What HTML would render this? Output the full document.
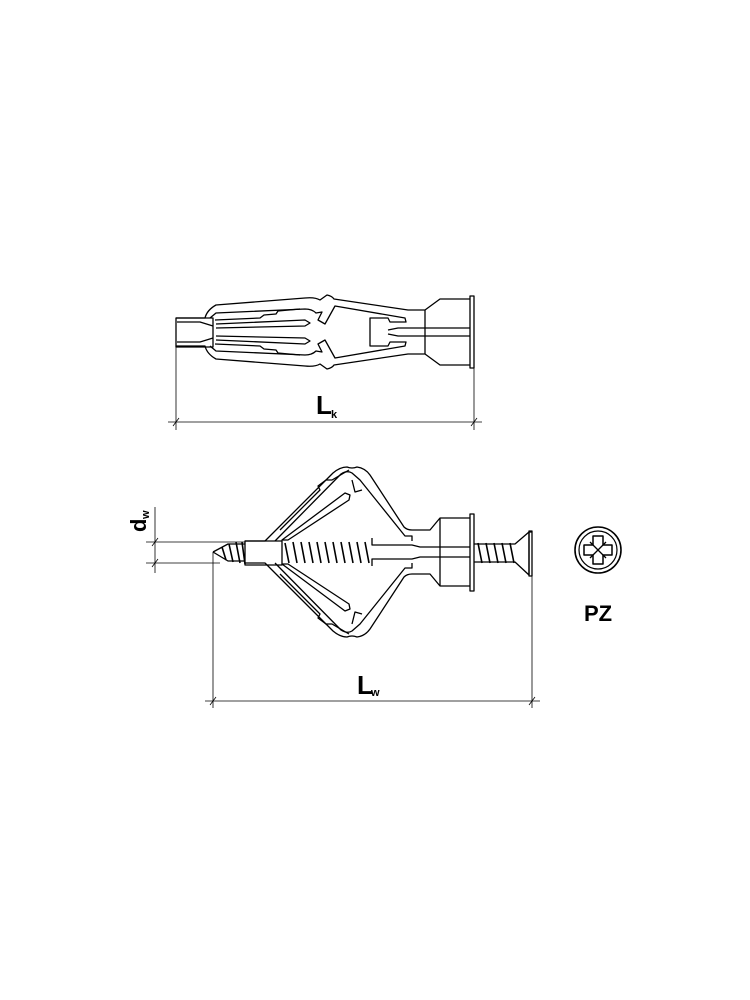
<!DOCTYPE html>
<html><head><meta charset="utf-8"><style>
html,body{margin:0;padding:0;background:#fff}
svg{display:block}
text{font-family:"Liberation Sans",sans-serif;font-weight:bold;fill:#000}
</style></head><body>
<svg width="750" height="1000" viewBox="0 0 750 1000" xmlns="http://www.w3.org/2000/svg">
<g fill="none" stroke="#000" stroke-width="1.3" stroke-linejoin="round">
<!-- TOP ANCHOR -->
<g id="tophalf">
 <path d="M176 318 H205 Q207 310 216 305 L305 298 Q315 297 320 300 L327 295 Q332 296 334 299 L408 310 H425 L440 299 H470"/>
 <path d="M210 318 L216 313 L305 309 Q312 309 316 313 L322 312 L318 320 L325 324 L335 306 L405 318 L406 322 H390 L388 318 H370 V332"/>
 <path d="M215 320 L260 318 L264 315 L276 314 L278 311 L300 309"/>
 <path d="M216 324 L305 320 L310 323 L305 326 L216 328"/>
 <path d="M177 322 L200 322 L213 326"/>
 <path d="M388 330 L398 328 H470"/>
</g>
<use href="#tophalf" transform="translate(0 664) scale(1 -1)"/>
<rect x="176" y="318" width="37" height="29"/>
<rect x="470" y="296" width="4" height="72"/>
<line x1="425" y1="310" x2="425" y2="354"/>

<!-- BOTTOM ANCHOR -->
<g id="bothalf">
 <path d="M245 541 H265 L333 473 Q340 467 347 467 Q352 469 357 467 Q365 468 370 475 L404 527 Q407 530 412 530 H430 L440 518 H470"/>
 <path d="M275 541 L341 474 Q347 470 352 473 L360 480 L405 536 H412 V541"/>
 <path d="M352 480 L355 492 L362 490"/>
 <path d="M280 530 L320 490 L318 486 L326 480 L332 480 L349 470"/>
 <path d="M282 540 L345 493 L350 495 L349 500 L288 540 Z"/>
 <path d="M372 538 V545 H412 L420 547 H470"/>
</g>
<use href="#bothalf" transform="translate(0 1104) scale(1 -1)"/>
<rect x="245" y="541" width="37" height="24"/>
<rect x="470" y="514" width="4" height="77"/>
<line x1="440" y1="518" x2="440" y2="586"/>
<!-- screw -->
<path d="M213 552 L228 544 H245 M213 552 L228 561 H245"/>
<g stroke-width="1.6">
 <path d="M222 547 L226 560 M229 544 L233 562 M236 542 L240 563 M242 542 L245 564 M285 543 L289 563 M293 542 L297 563 M301 542 L305 563 M309 542 L313 563 M317 542 L321 563 M325 542 L329 563 M333 542 L337 563 M341 542 L345 563 M349 542 L353 563 M357 542 L361 563 M365 542 L369 563 M478 543 L482 563 M486 543 L490 563 M494 543 L498 563 M502 543 L506 563 M510 543 L514 563"/>
</g>
<path d="M474 544 H515 L529 532 V575 L515 562 H474"/>
<line x1="529" y1="532" x2="532" y2="532"/><rect x="529" y="531" width="3" height="45"/>

<!-- DIMENSIONS -->
<g stroke-width="0.8">
 <line x1="176" y1="347" x2="176" y2="430"/>
 <line x1="474" y1="368" x2="474" y2="430"/>
 <line x1="168" y1="422" x2="482" y2="422"/>
 <line x1="173" y1="426" x2="179" y2="418"/>
 <line x1="471" y1="426" x2="477" y2="418"/>
 <line x1="213" y1="552" x2="213" y2="708"/>
 <line x1="532" y1="576" x2="532" y2="708"/>
 <line x1="205" y1="701" x2="540" y2="701"/>
 <line x1="210" y1="705" x2="216" y2="697"/>
 <line x1="529" y1="705" x2="535" y2="697"/>
 <line x1="146" y1="542" x2="245" y2="542"/>
 <line x1="146" y1="563" x2="220" y2="563"/>
 <line x1="155" y1="507" x2="155" y2="573"/>
 <line x1="152" y1="546" x2="158" y2="538"/>
 <line x1="152" y1="567" x2="158" y2="559"/>
</g>
<!-- PZ icon -->
<circle cx="598" cy="550" r="23" stroke-width="1.6"/>
<circle cx="598" cy="550" r="19" stroke-width="1.2"/>
<path d="M593 536 H603 V545 H612 V555 H603 V564 H593 V555 H584 V545 H593 Z" stroke-width="1.5"/>
<path d="M590 542 L606 558 M606 542 L590 558" stroke-width="1.3"/>
</g>
<text x="316" y="414" font-size="26">L</text><text x="331" y="418" font-size="11" font-weight="normal">k</text>
<text x="357" y="694" font-size="26">L</text><text x="371" y="696" font-size="11" font-weight="normal">w</text>
<text transform="translate(146 532) rotate(-90)" font-size="22">d</text>
<text transform="translate(149 519) rotate(-90)" font-size="11" font-weight="normal">w</text>
<text x="598" y="621" font-size="22" text-anchor="middle">PZ</text>
</svg>
</body></html>
